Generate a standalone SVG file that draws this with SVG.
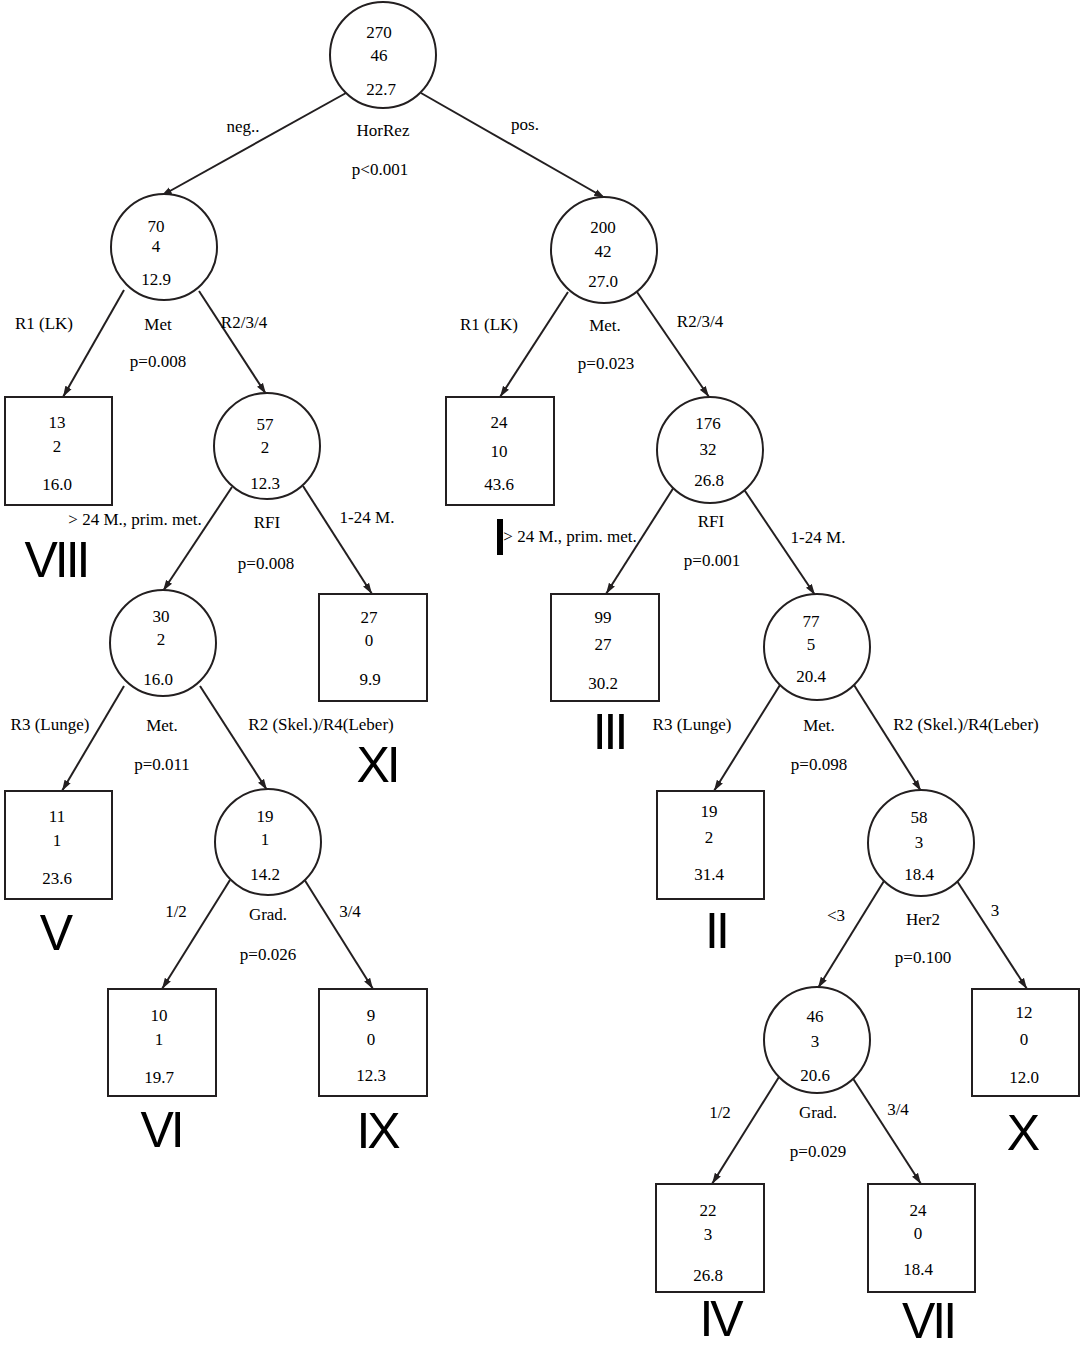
<svg xmlns="http://www.w3.org/2000/svg" width="1080" height="1347" viewBox="0 0 1080 1347">
  <style>
    .n { fill: #fff; stroke: #231f20; stroke-width: 2; }
    .t { font-family: "Liberation Serif", "Times New Roman", serif; font-size: 17px; fill: #000; text-anchor: middle; }
    .rn { font-family: "Liberation Sans", Arial, sans-serif; font-size: 50px; fill: #000; text-anchor: middle; letter-spacing: -3px; }
    .e { stroke: #231f20; stroke-width: 2; fill: none; marker-end: url(#ah); }
  </style>
  <defs>
    <marker id="ah" markerUnits="userSpaceOnUse" markerWidth="12" markerHeight="8" refX="11" refY="4" orient="auto">
      <path d="M0,0.5 L11,4 L0,7.5 z" fill="#231f20"/>
    </marker>
  </defs>
  <rect width="1080" height="1347" fill="#fff"/>

  <!-- connectors -->
  <g id="edges">
    <line class="e" x1="346" y1="93" x2="161" y2="196"/>
    <line class="e" x1="421" y1="93" x2="605" y2="198"/>
    <line class="e" x1="124" y1="290" x2="63" y2="397"/>
    <line class="e" x1="199" y1="291" x2="266" y2="394"/>
    <line class="e" x1="568" y1="292" x2="500" y2="397"/>
    <line class="e" x1="637" y1="292" x2="709" y2="397"/>
    <line class="e" x1="232" y1="487" x2="163" y2="591"/>
    <line class="e" x1="303" y1="486" x2="372" y2="594"/>
    <line class="e" x1="674" y1="487" x2="606" y2="594"/>
    <line class="e" x1="743" y1="488" x2="815" y2="595"/>
    <line class="e" x1="124" y1="686" x2="62" y2="791"/>
    <line class="e" x1="200" y1="686" x2="267" y2="790"/>
    <line class="e" x1="780" y1="685" x2="714" y2="791"/>
    <line class="e" x1="854" y1="685" x2="921" y2="791"/>
    <line class="e" x1="230" y1="880" x2="162" y2="989"/>
    <line class="e" x1="304" y1="879" x2="373" y2="989"/>
    <line class="e" x1="884" y1="881" x2="818" y2="988"/>
    <line class="e" x1="957" y1="881" x2="1027" y2="989"/>
    <line class="e" x1="779" y1="1077" x2="712" y2="1184"/>
    <line class="e" x1="852" y1="1077" x2="921" y2="1184"/>
  </g>

  <!-- split labels -->
  <g id="labels">
    <text class="t" x="243" y="132">neg..</text>
    <text class="t" x="525" y="130">pos.</text>
    <text class="t" x="383" y="136">HorRez</text>
    <text class="t" x="380" y="175">p&lt;0.001</text>

    <text class="t" x="44" y="329">R1 (LK)</text>
    <text class="t" x="158" y="330">Met</text>
    <text class="t" x="158" y="367">p=0.008</text>
    <text class="t" x="244" y="328">R2/3/4</text>

    <text class="t" x="489" y="330">R1 (LK)</text>
    <text class="t" x="605" y="331">Met.</text>
    <text class="t" x="606" y="369">p=0.023</text>
    <text class="t" x="700" y="327">R2/3/4</text>

    <text class="t" x="135" y="525">&gt; 24 M., prim. met.</text>
    <text class="t" x="267" y="528">RFI</text>
    <text class="t" x="266" y="569">p=0.008</text>
    <text class="t" x="367" y="523">1-24 M.</text>

    <text class="t" x="570" y="542">&gt; 24 M., prim. met.</text>
    <text class="t" x="711" y="527">RFI</text>
    <text class="t" x="712" y="566">p=0.001</text>
    <text class="t" x="818" y="543">1-24 M.</text>

    <text class="t" x="50" y="730">R3 (Lunge)</text>
    <text class="t" x="162" y="731">Met.</text>
    <text class="t" x="162" y="770">p=0.011</text>
    <text class="t" x="321" y="730">R2 (Skel.)/R4(Leber)</text>

    <text class="t" x="692" y="730">R3 (Lunge)</text>
    <text class="t" x="819" y="731">Met.</text>
    <text class="t" x="819" y="770">p=0.098</text>
    <text class="t" x="966" y="730">R2 (Skel.)/R4(Leber)</text>

    <text class="t" x="176" y="917">1/2</text>
    <text class="t" x="268" y="920">Grad.</text>
    <text class="t" x="268" y="960">p=0.026</text>
    <text class="t" x="350" y="917">3/4</text>

    <text class="t" x="836" y="921">&lt;3</text>
    <text class="t" x="923" y="925">Her2</text>
    <text class="t" x="923" y="963">p=0.100</text>
    <text class="t" x="995" y="916">3</text>

    <text class="t" x="720" y="1118">1/2</text>
    <text class="t" x="818" y="1118">Grad.</text>
    <text class="t" x="818" y="1157">p=0.029</text>
    <text class="t" x="898" y="1115">3/4</text>
  </g>

  <!-- inner nodes -->
  <g id="n270">
    <circle class="n" cx="383" cy="55" r="53"/>
    <text class="t" x="379" y="38">270</text>
    <text class="t" x="379" y="61">46</text>
    <text class="t" x="381" y="95">22.7</text>
  </g>
  <g id="n70">
    <circle class="n" cx="164" cy="247" r="53"/>
    <text class="t" x="156" y="232">70</text>
    <text class="t" x="156" y="252">4</text>
    <text class="t" x="156" y="285">12.9</text>
  </g>
  <g id="n200">
    <circle class="n" cx="604" cy="250" r="53"/>
    <text class="t" x="603" y="233">200</text>
    <text class="t" x="603" y="257">42</text>
    <text class="t" x="603" y="287">27.0</text>
  </g>
  <g id="n57">
    <circle class="n" cx="267" cy="446" r="53"/>
    <text class="t" x="265" y="430">57</text>
    <text class="t" x="265" y="453">2</text>
    <text class="t" x="265" y="489">12.3</text>
  </g>
  <g id="n176">
    <circle class="n" cx="710" cy="450" r="53"/>
    <text class="t" x="708" y="429">176</text>
    <text class="t" x="708" y="455">32</text>
    <text class="t" x="709" y="486">26.8</text>
  </g>
  <g id="n30">
    <circle class="n" cx="163" cy="643" r="53"/>
    <text class="t" x="161" y="622">30</text>
    <text class="t" x="161" y="645">2</text>
    <text class="t" x="158" y="685">16.0</text>
  </g>
  <g id="n77">
    <circle class="n" cx="817" cy="647" r="53"/>
    <text class="t" x="811" y="627">77</text>
    <text class="t" x="811" y="650">5</text>
    <text class="t" x="811" y="682">20.4</text>
  </g>
  <g id="n19">
    <circle class="n" cx="268" cy="842" r="53"/>
    <text class="t" x="265" y="822">19</text>
    <text class="t" x="265" y="845">1</text>
    <text class="t" x="265" y="880">14.2</text>
  </g>
  <g id="n58">
    <circle class="n" cx="921" cy="843" r="53"/>
    <text class="t" x="919" y="823">58</text>
    <text class="t" x="919" y="848">3</text>
    <text class="t" x="919" y="880">18.4</text>
  </g>
  <g id="n46">
    <circle class="n" cx="817" cy="1040" r="53"/>
    <text class="t" x="815" y="1022">46</text>
    <text class="t" x="815" y="1047">3</text>
    <text class="t" x="815" y="1081">20.6</text>
  </g>

  <!-- terminal nodes -->
  <g id="t13">
    <rect class="n" x="5" y="397" width="107" height="108"/>
    <text class="t" x="57" y="428">13</text>
    <text class="t" x="57" y="452">2</text>
    <text class="t" x="57" y="490">16.0</text>
    <text class="rn" x="56" y="577">VIII</text>
  </g>
  <g id="t24a">
    <rect class="n" x="446" y="397" width="108" height="108"/>
    <text class="t" x="499" y="428">24</text>
    <text class="t" x="499" y="457">10</text>
    <text class="t" x="499" y="490">43.6</text>
    <rect x="497" y="519" width="6" height="36" fill="#000"/>
  </g>
  <g id="t27">
    <rect class="n" x="319" y="594" width="108" height="107"/>
    <text class="t" x="369" y="623">27</text>
    <text class="t" x="369" y="646">0</text>
    <text class="t" x="370" y="685">9.9</text>
    <text class="rn" x="377" y="782">XI</text>
  </g>
  <g id="t99">
    <rect class="n" x="551" y="594" width="108" height="107"/>
    <text class="t" x="603" y="623">99</text>
    <text class="t" x="603" y="650">27</text>
    <text class="t" x="603" y="689">30.2</text>
    <text class="rn" x="609" y="749">III</text>
  </g>
  <g id="t11">
    <rect class="n" x="5" y="791" width="107" height="108"/>
    <text class="t" x="57" y="822">11</text>
    <text class="t" x="57" y="846">1</text>
    <text class="t" x="57" y="884">23.6</text>
    <text class="rn" x="55" y="950">V</text>
  </g>
  <g id="t19b">
    <rect class="n" x="657" y="791" width="107" height="108"/>
    <text class="t" x="709" y="817">19</text>
    <text class="t" x="709" y="843">2</text>
    <text class="t" x="709" y="880">31.4</text>
    <text class="rn" x="716" y="948">II</text>
  </g>
  <g id="t10">
    <rect class="n" x="108" y="989" width="108" height="107"/>
    <text class="t" x="159" y="1021">10</text>
    <text class="t" x="159" y="1045">1</text>
    <text class="t" x="159" y="1083">19.7</text>
    <text class="rn" x="161" y="1147">VI</text>
  </g>
  <g id="t9">
    <rect class="n" x="319" y="989" width="108" height="107"/>
    <text class="t" x="371" y="1021">9</text>
    <text class="t" x="371" y="1045">0</text>
    <text class="t" x="371" y="1081">12.3</text>
    <text class="rn" x="377" y="1148">IX</text>
  </g>
  <g id="t12">
    <rect class="n" x="972" y="989" width="107" height="107"/>
    <text class="t" x="1024" y="1018">12</text>
    <text class="t" x="1024" y="1045">0</text>
    <text class="t" x="1024" y="1083">12.0</text>
    <text class="rn" x="1022" y="1150">X</text>
  </g>
  <g id="t22">
    <rect class="n" x="656" y="1184" width="108" height="108"/>
    <text class="t" x="708" y="1216">22</text>
    <text class="t" x="708" y="1240">3</text>
    <text class="t" x="708" y="1281">26.8</text>
    <text class="rn" x="720" y="1336">IV</text>
  </g>
  <g id="t24b">
    <rect class="n" x="868" y="1184" width="107" height="108"/>
    <text class="t" x="918" y="1216">24</text>
    <text class="t" x="918" y="1239">0</text>
    <text class="t" x="918" y="1275">18.4</text>
    <text class="rn" x="928" y="1338">VII</text>
  </g>
</svg>
